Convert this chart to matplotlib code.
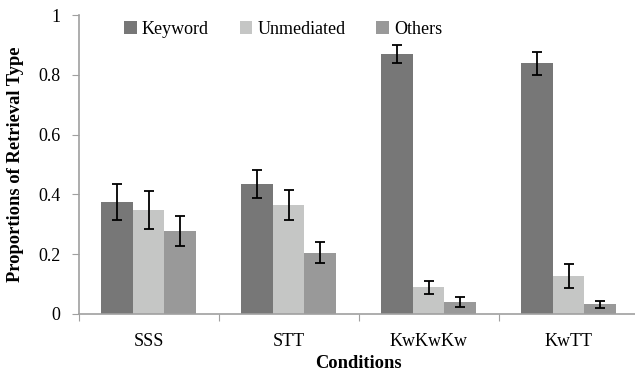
import numpy as np
import matplotlib.pyplot as plt

plt.rcParams['font.family'] = ['Liberation Serif', 'DejaVu Serif']

conditions = ['SSS', 'STT', 'KwKwKw', 'KwTT']
series = ['Keyword', 'Unmediated', 'Others']
keyword = [0.375, 0.435, 0.870, 0.839]
unmediated = [0.348, 0.365, 0.090, 0.127]
others = [0.278, 0.205, 0.040, 0.033]
keyword_err = [0.060, 0.048, 0.029, 0.038]
unmediated_err = [0.063, 0.051, 0.022, 0.040]
others_err = [0.050, 0.036, 0.017, 0.012]

colors = ['#777777', '#c5c6c5', '#999999']

fig = plt.figure(figsize=(6.35, 3.75), dpi=100)
# axes box in pixels: left 78.5, bottom at y=314, top at y=15, one category = 140 px
ax = fig.add_axes([78.5 / 635, (375 - 314) / 375, 560 / 635, 299 / 375])

x = np.arange(len(conditions)) + 0.5
w = 0.225
vals = [keyword, unmediated, others]
errs = [keyword_err, unmediated_err, others_err]
for i in range(3):
    ax.bar(x + (i - 1) * w, vals[i], w, color=colors[i], label=series[i],
           yerr=errs[i], error_kw=dict(ecolor='black', elinewidth=1.3,
                                       capsize=3.8, capthick=1.3))

ax.set_xlim(0, 4)
ax.set_ylim(0, 1)
ax.set_yticks([0, 0.2, 0.4, 0.6, 0.8, 1])
ax.set_yticklabels(['0', '0.2', '0.4', '0.6', '0.8', '1'], fontsize=13)
ax.set_xticks([0, 1, 2, 3, 4])
ax.set_xticklabels([])
ax.set_xticks(x, minor=True)
ax.set_xticklabels(conditions, minor=True, fontsize=13)
ax.tick_params(axis='x', which='minor', length=0, pad=14)
ax.tick_params(axis='x', which='major', length=5, color='#a0a0a0', direction='out')
ax.tick_params(axis='y', length=5, color='#a0a0a0', direction='out', pad=8)

for s in ['top', 'right']:
    ax.spines[s].set_visible(False)
for s in ['left', 'bottom']:
    ax.spines[s].set_color('#a0a0a0')
    ax.spines[s].set_linewidth(1.2)

ax.set_xlabel('Conditions', fontsize=13.3, fontweight='bold', labelpad=3)
ax.set_ylabel('Proportions of Retrieval Type', fontsize=13.3, fontweight='bold', labelpad=10)

ax.legend(loc='upper left', bbox_to_anchor=(0.052, 1.035), ncol=3, frameon=False,
          fontsize=13, handlelength=0.7, handleheight=0.7, handletextpad=0.3,
          columnspacing=1.7)

plt.savefig('out.png', dpi=100)
